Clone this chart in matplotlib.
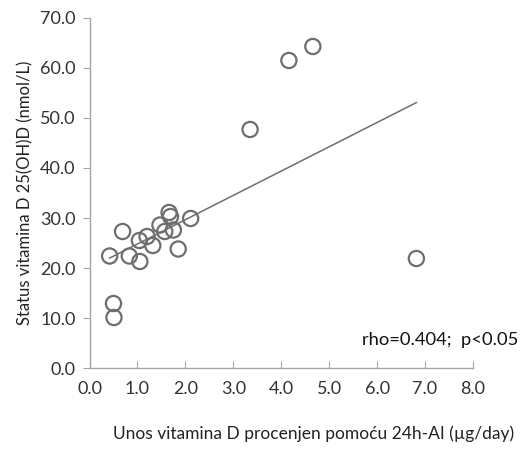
import matplotlib
matplotlib.use("Agg")
import matplotlib.pyplot as plt
import numpy as np

# intake of vitamin D (ug/day) vs 25(OH)D status (nmol/L)
intake = [0.42, 0.69, 0.83, 1.05, 1.04, 1.20, 1.32, 1.47, 1.57, 1.66,
          1.69, 1.75, 1.85, 2.11, 0.50, 0.51, 3.35, 4.16, 4.66, 6.82]
status = [22.4, 27.3, 22.4, 21.3, 25.5, 26.3, 24.5, 28.6, 27.3, 31.1,
          30.3, 27.6, 23.8, 29.9, 12.9, 10.1, 47.7, 61.5, 64.3, 21.9]
xticks = np.arange(0, 8.01, 1.0)
yticks = np.arange(0, 70.01, 10.0)

plt.rcParams["font.family"] = ["Lato", "DejaVu Sans"]

fig = plt.figure(figsize=(5.22, 4.61), dpi=100)
ax = fig.add_axes([0.1715, 0.2017, 0.7345, 0.7593])

ax.scatter(intake, status, s=120, facecolors="none", edgecolors="#6e6e6e",
           linewidths=1.6, zorder=3)

slope, icpt = np.polyfit(intake, status, 1)
xl = np.array([min(intake), max(intake)])
ax.plot(xl, slope * xl + icpt, color="#6e6e6e", lw=1.1, zorder=2)

ax.set_xlim(0, 8)
ax.set_ylim(0, 70)
ax.set_xticks(xticks)
ax.set_yticks(yticks)
ax.set_xticklabels([f"{v:.1f}" for v in xticks], fontsize=13, color="#333333")
ax.set_yticklabels([f"{v:.1f}" for v in yticks], fontsize=13, color="#333333")
for s in ["top", "right"]:
    ax.spines[s].set_visible(False)
for s in ["left", "bottom"]:
    ax.spines[s].set_color("#a6a6a6")
    ax.spines[s].set_linewidth(1.0)
ax.tick_params(axis="x", direction="in", length=5, color="#a6a6a6", pad=9)
ax.tick_params(axis="y", direction="out", length=5, color="#a6a6a6", pad=5)

ax.set_ylabel("Status vitamina D 25(OH)D (nmol/L)", fontsize=12, color="#222222",
              labelpad=5)
fig.text(0.6, 0.06, "Unos vitamina D procenjen pomoću 24h-AI (µg/day)",
         fontsize=12.5, ha="center", va="center", color="#222222")
fig.text(0.993, 0.262, "rho=0.404;  p<0.05", fontsize=13.2, ha="right", va="center",
         color="#111111")

fig.savefig("out.png", dpi=100)
